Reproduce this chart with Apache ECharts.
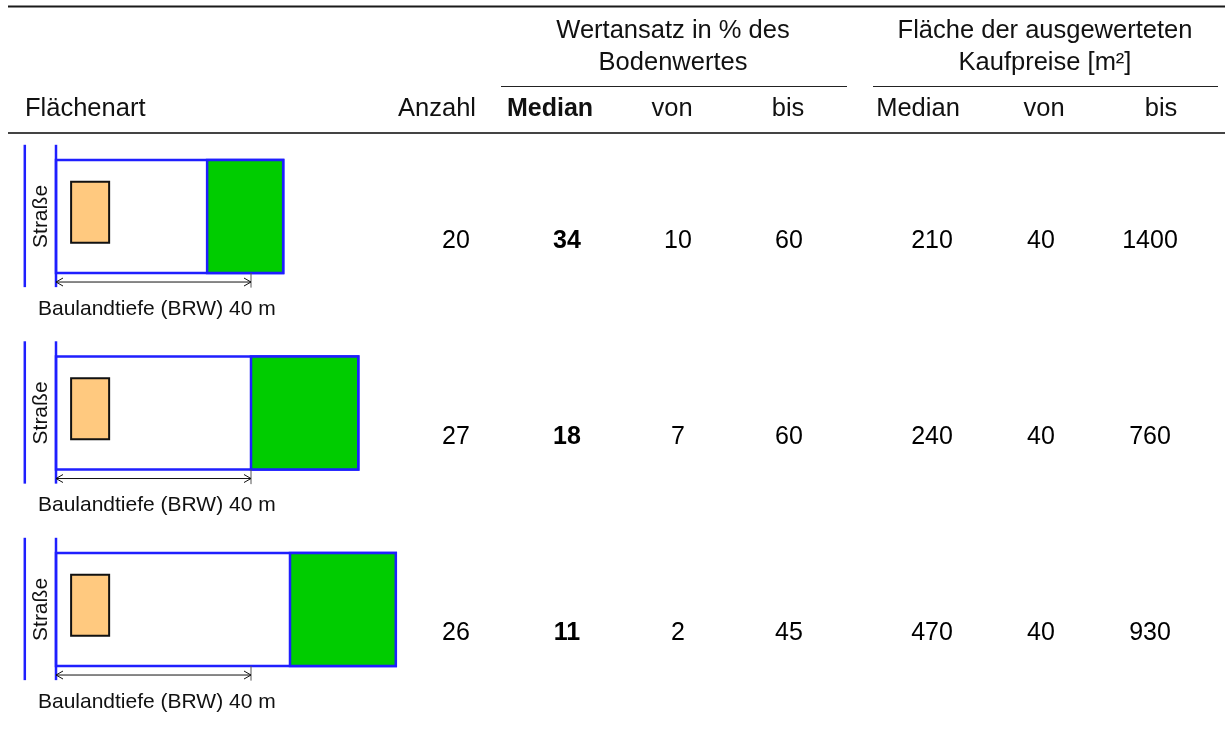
<!DOCTYPE html>
<html>
<head>
<meta charset="utf-8">
<script src="https://cdn.jsdelivr.net/npm/echarts@6/dist/echarts.min.js"></script>
<style>
  html, body { margin: 0; padding: 0; background: #fff; }
  #chart { width: 1225px; height: 731px; }
</style>
</head>
<body>
<div id="chart"></div>
<script>
// Tabellenwerte
const rows = [0, 1, 2];
const colsWert = ['Anzahl', 'Median', 'von', 'bis'];
const colsFlaeche = ['Median', 'von', 'bis'];
const anzahl = [20, 27, 26];
const wertMedian = [34, 18, 11];
const wertVon = [10, 7, 2];
const wertBis = [60, 60, 45];
const flaecheMedian = [210, 240, 470];
const flaecheVon = [40, 40, 40];
const flaecheBis = [1400, 760, 930];

// Skizzen (Meter)
const baulandtiefe = 40;
const grundstueckTiefe = [46.6, 62, 69.7];
const gartenBeginn = [31, 40, 48];
const grundstueckBreite = 23.2;
const haus = [3.1, 10.9, 6.2, 18.7]; // x0, x1, y0, y1
const strasseX = -6.4;
const grenzeY = [-2.9, 26.3];
const masslinieY = -1.85;

const FONT = '"Liberation Sans", Arial, sans-serif';
const BLUE = '#1f1fff';
const GREEN = '#00cc00';
const ORANGE = '#ffc97f';

const chart = echarts.init(document.getElementById('chart'), null, { renderer: 'canvas' });

// Zeilenlage
const rowTop = 142.75;
const rowH = 196.5;
const pxPerM = 4.875;

const grids = [
  { left: 400.5, top: rowTop, width: 444, height: rowH * 3 },
  { left: 877.5, top: rowTop, width: 327, height: rowH * 3 },
];
const xAxes = [
  { gridIndex: 0, type: 'category', data: colsWert, show: false },
  { gridIndex: 1, type: 'category', data: colsFlaeche, show: false },
];
const yAxes = [
  { gridIndex: 0, type: 'category', data: rows, inverse: true, show: false },
  { gridIndex: 1, type: 'category', data: rows, inverse: true, show: false },
];

const cell = (col, arr) => arr.map((v, r) => ({ value: [col, r], v }));
const valueSeries = (gi, data, bold) => ({
  type: 'scatter',
  xAxisIndex: gi,
  yAxisIndex: gi,
  symbolSize: 0,
  silent: true,
  itemStyle: { opacity: 1 },
  data,
  label: {
    show: true,
    position: 'inside',
    formatter: p => String(p.data.v),
    fontFamily: FONT,
    fontSize: 25,
    fontWeight: bold ? 'bold' : 'normal',
    color: '#000',
    opacity: 1,
  },
});

const series = [
  valueSeries(0, cell('Anzahl', anzahl), false),
  valueSeries(0, cell('Median', wertMedian), true),
  valueSeries(0, cell('von', wertVon), false),
  valueSeries(0, cell('bis', wertBis), false),
  valueSeries(1, cell('Median', flaecheMedian), false),
  valueSeries(1, cell('von', flaecheVon), false),
  valueSeries(1, cell('bis', flaecheBis), false),
];

// Skizzen-Grids: x -8..72 m, y -3..27 m
rows.forEach(i => {
  const bottom = 273 + rowH * i;
  const gi = grids.length;
  grids.push({ left: 56 - 8 * pxPerM, top: bottom - 27 * pxPerM, width: 80 * pxPerM, height: 30 * pxPerM });
  xAxes.push({ gridIndex: gi, type: 'value', min: -8, max: 72, show: false });
  yAxes.push({ gridIndex: gi, type: 'value', min: -3, max: 27, show: false });

  const depth = grundstueckTiefe[i];
  const garden = gartenBeginn[i];
  series.push({
    type: 'custom',
    xAxisIndex: gi,
    yAxisIndex: gi,
    silent: true,
    clip: false,
    data: [[0, 0]],
    renderItem: (params, api) => {
      const c = (x, y) => api.coord([x, y]);
      const rect = (x0, x1, y0, y1, fill, stroke, lw) => {
        const a = c(x0, y1);
        const b = c(x1, y0);
        return {
          type: 'rect',
          shape: { x: a[0], y: a[1], width: b[0] - a[0], height: b[1] - a[1] },
          style: { fill, stroke, lineWidth: lw },
        };
      };
      const line = (p1, p2, stroke, lw) => ({
        type: 'line',
        shape: { x1: p1[0], y1: p1[1], x2: p2[0], y2: p2[1] },
        style: { stroke, lineWidth: lw },
      });
      const mL = c(0, masslinieY);
      const mR = c(baulandtiefe, masslinieY);
      const strasseMitte = c(strasseX / 2 + 0.2, grundstueckBreite / 2);
      const textPos = c(-3.7, masslinieY - 5.5);
      return {
        type: 'group',
        children: [
          line(c(strasseX, grenzeY[0]), c(strasseX, grenzeY[1]), BLUE, 2.5),
          rect(0, depth, 0, grundstueckBreite, '#fff', BLUE, 2.5),
          rect(garden, depth, 0, grundstueckBreite, GREEN, BLUE, 2.5),
          line(c(0, grenzeY[0]), c(0, grenzeY[1]), BLUE, 2.5),
          rect(haus[0], haus[1], haus[2], haus[3], ORANGE, '#111', 2),
          line(c(baulandtiefe, 0), c(baulandtiefe, -3), '#555', 1),
          line(mL, mR, '#111', 1),
          {
            type: 'polyline',
            shape: { points: [[mL[0] + 7, mL[1] - 4], mL, [mL[0] + 7, mL[1] + 4]] },
            style: { stroke: '#111', lineWidth: 1, fill: null },
          },
          {
            type: 'polyline',
            shape: { points: [[mR[0] - 7, mR[1] - 4], mR, [mR[0] - 7, mR[1] + 4]] },
            style: { stroke: '#111', lineWidth: 1, fill: null },
          },
          {
            type: 'text',
            x: strasseMitte[0],
            y: strasseMitte[1],
            rotation: Math.PI / 2,
            style: {
              text: 'Straße', fontFamily: FONT, fontSize: 21, fill: '#111',
              align: 'center', verticalAlign: 'middle',
            },
          },
          {
            type: 'text',
            x: textPos[0],
            y: textPos[1],
            style: {
              text: 'Baulandtiefe (BRW) ' + baulandtiefe + ' m', fontFamily: FONT, fontSize: 21,
              fill: '#111', align: 'left', verticalAlign: 'middle',
            },
          },
        ],
      };
    },
  });
});

const headText = (text, x, y, align, bold) => ({
  type: 'text',
  x, y,
  silent: true,
  style: {
    text, fontFamily: FONT, fontSize: bold ? 25 : 25.5, fontWeight: bold ? 'bold' : 'normal',
    fill: '#111', align, verticalAlign: 'middle',
  },
});
const hLine = (x1, x2, y, lw, color) => ({
  type: 'line',
  silent: true,
  shape: { x1, y1: y, x2, y2: y },
  style: { stroke: color, lineWidth: lw },
});

const option = {
  animation: false,
  backgroundColor: '#fff',
  grid: grids,
  xAxis: xAxes,
  yAxis: yAxes,
  series,
  graphic: [
    hLine(8, 1225, 6.5, 2, '#1a1a1a'),
    hLine(501, 847, 86.5, 1, '#222'),
    hLine(873, 1218, 86.5, 1, '#222'),
    hLine(8, 1225, 133, 2, '#444'),
    headText('Wertansatz in % des', 673, 31, 'center'),
    headText('Bodenwertes', 673, 63, 'center'),
    headText('Fläche der ausgewerteten', 1045, 31, 'center'),
    headText('Kaufpreise [m²]', 1045, 63, 'center'),
    headText('Flächenart', 25, 109, 'left'),
    headText('Anzahl', 476, 109, 'right'),
    headText('Median', 550, 109, 'center', true),
    headText('von', 672, 109, 'center'),
    headText('bis', 788, 109, 'center'),
    headText('Median', 918, 109, 'center'),
    headText('von', 1044, 109, 'center'),
    headText('bis', 1161, 109, 'center'),
  ],
};

chart.setOption(option);
window.addEventListener('resize', chart.resize);
</script>
</body>
</html>
